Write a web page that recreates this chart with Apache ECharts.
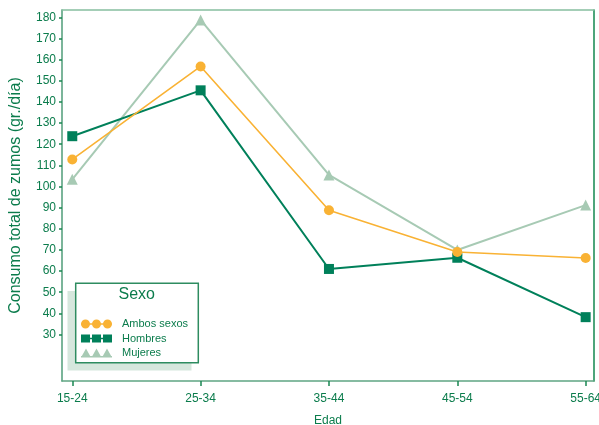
<!DOCTYPE html>
<html>
<head>
<meta charset="utf-8">
<script src="https://cdn.jsdelivr.net/npm/echarts@6/dist/echarts.min.js"></script>
<style>html,body{margin:0;padding:0;background:#fff}#c{width:599px;height:425px}</style>
</head>
<body>
<div id="c"></div>
<script>
const categories = ['15-24', '25-34', '35-44', '45-54', '55-64'];
const ambos = [112.8, 156.8, 88.8, 69, 66.2];
const hombres = [123.8, 145.5, 61, 66.3, 38.2];
const mujeres = [103.4, 178.8, 105.5, 70, 91.2];
const yTicks = [30, 40, 50, 60, 70, 80, 90, 100, 110, 120, 130, 140, 150, 160, 170, 180];

const TXT = '#0b7c4c';
const C_AMB = '#f9b234';
const C_HOM = '#00805a';
const C_MUJ = '#a7cab4';
const FONT = 'Liberation Sans, Arial, sans-serif';

const idx = categories.map((c, i) => i);
const pairs = arr => arr.map((v, i) => [idx[i], v]);

const ICON_CIRCLES = 'path://M0 4.5a4.5 4.5 0 1 1 9 0a4.5 4.5 0 1 1 -9 0Z M11 4.5a4.5 4.5 0 1 1 9 0a4.5 4.5 0 1 1 -9 0Z M22 4.5a4.5 4.5 0 1 1 9 0a4.5 4.5 0 1 1 -9 0Z M0 3.7h31v1.6h-31Z';
const ICON_SQUARES = 'path://M0 0h9v8h-9Z M11 0h9v8h-9Z M22 0h9v8h-9Z M0 3.2h31v1.6h-31Z';
const ICON_TRI = 'path://M0 9L5 0L10 9Z M10.5 9L15.5 0L20.5 9Z M21 9L26 0L31 9Z M0 7.4h31v1.6h-31Z';

const chart = echarts.init(document.getElementById('c'), null, {renderer: 'canvas'});
chart.setOption({
  animation: false,
  backgroundColor: '#fff',
  textStyle: {fontFamily: FONT},
  grid: {left: 62, right: 5, top: 10, bottom: 44, containLabel: false, outerBoundsMode: 'none'},
  xAxis: [{
    type: 'value', min: -0.08, max: 4.065, position: 'bottom',
    name: 'Edad', nameLocation: 'middle', nameGap: 34,
    nameTextStyle: {color: TXT, fontSize: 12, fontFamily: FONT},
    axisLine: {show: true, onZero: false, lineStyle: {color: '#5fa582', width: 1.5}},
    axisTick: {show: true, length: 5, customValues: idx, lineStyle: {color: '#1a8752', width: 1.5}},
    axisLabel: {customValues: idx, color: TXT, fontSize: 12, fontFamily: FONT, margin: 12,
      formatter: v => categories[Math.round(v)]},
    splitLine: {show: false}
  }, {
    type: 'value', min: 0, max: 1, position: 'top',
    axisLine: {show: true, onZero: false, lineStyle: {color: '#86bea0', width: 1.5}},
    axisTick: {show: false}, axisLabel: {show: false}, splitLine: {show: false}
  }],
  yAxis: [{
    type: 'value', min: 8, max: 183.5, position: 'left',
    name: 'Consumo total de zumos (gr./día)', nameLocation: 'middle', nameGap: 38,
    nameTextStyle: {color: TXT, fontSize: 16, fontFamily: FONT},
    axisLine: {show: true, onZero: false, lineStyle: {color: '#4f9d78', width: 1.5}},
    axisTick: {show: true, length: 3, customValues: yTicks, lineStyle: {color: '#1a8752', width: 1.5}},
    axisLabel: {customValues: yTicks, color: TXT, fontSize: 12, fontFamily: FONT, margin: 6},
    splitLine: {show: false}
  }, {
    type: 'value', min: 0, max: 1, position: 'right',
    axisLine: {show: true, onZero: false, lineStyle: {color: '#13874f', width: 1.5}},
    axisTick: {show: false}, axisLabel: {show: false}, splitLine: {show: false}
  }],
  legend: {
    orient: 'vertical', left: 81, top: 318.5, padding: 0,
    itemWidth: 31, itemHeight: 9, itemGap: 3.5,
    textStyle: {color: TXT, fontSize: 11, fontFamily: FONT, padding: [0, 0, 0, 5]},
    data: [
      {name: 'Ambos sexos', icon: ICON_CIRCLES},
      {name: 'Hombres', icon: ICON_SQUARES},
      {name: 'Mujeres', icon: ICON_TRI}
    ],
    selectedMode: false
  },
  graphic: [
    {type: 'rect', z: 1, shape: {x: 67.5, y: 291, width: 124, height: 79.5},
      style: {fill: '#d6e7dd'}},
    {type: 'rect', z: 2, shape: {x: 75.7, y: 283.3, width: 122.6, height: 79.4},
      style: {fill: '#fff', stroke: '#2e8c60', lineWidth: 1.5}},
    {type: 'text', z: 3, x: 136.7, y: 295,
      style: {text: 'Sexo', fill: TXT, fontSize: 16, fontFamily: FONT, textAlign: 'center', textVerticalAlign: 'middle'}}
  ],
  series: [
    {name: 'Mujeres', type: 'line', data: pairs(mujeres), symbol: 'triangle', symbolSize: 11,
      itemStyle: {color: C_MUJ}, lineStyle: {color: C_MUJ, width: 2}, z: 2},
    {name: 'Hombres', type: 'line', data: pairs(hombres), symbol: 'rect', symbolSize: 10,
      itemStyle: {color: C_HOM}, lineStyle: {color: C_HOM, width: 2}, z: 3},
    {name: 'Ambos sexos', type: 'line', data: pairs(ambos), symbol: 'circle', symbolSize: 10,
      itemStyle: {color: C_AMB}, lineStyle: {color: C_AMB, width: 1.6}, z: 4}
  ]
});
</script>
</body>
</html>
